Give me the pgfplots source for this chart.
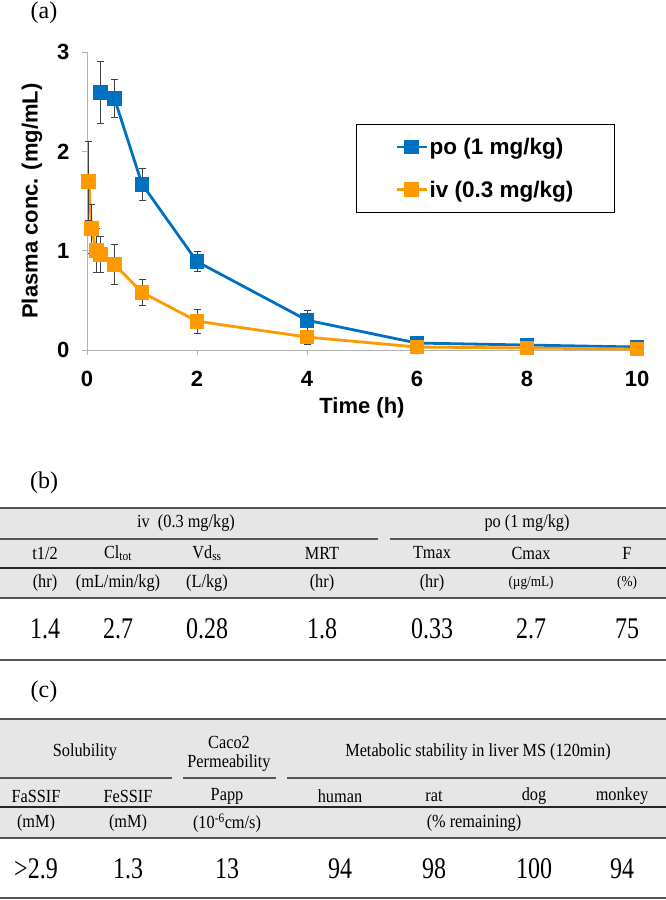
\documentclass[border=0pt]{standalone}
\usepackage{pgfplots}
\pgfplotsset{compat=1.18}
\usepackage{fontspec}
\setmainfont{Liberation Serif}
\newfontfamily\chartfont{Liberation Sans}
\newfontfamily\tabfont[FakeStretch=0.88]{Liberation Serif}
\newfontfamily\valfont[FakeStretch=0.8]{Liberation Serif}

\definecolor{poblue}{RGB}{0,112,192}
\definecolor{ivorange}{RGB}{255,153,0}
\definecolor{headgray}{RGB}{230,230,230}
\definecolor{rulegray}{RGB}{85,85,85}

\newcommand\chf{\chartfont\bfseries\fontsize{22bp}{26bp}\selectfont}
\newcommand\hdr{\tabfont\fontsize{18.5bp}{21bp}\selectfont}
\newcommand\hdrs{\tabfont\fontsize{15bp}{18bp}\selectfont}
\newcommand\val{\valfont\fontsize{30bp}{33bp}\selectfont}
\newcommand\pan{\fontsize{24bp}{26bp}\selectfont}

\begin{document}
\begin{tikzpicture}[x=1bp,y=1bp]
\useasboundingbox (0,0) rectangle (666,-900);

% (a) plasma concentration
\node[font=\pan] at (44,-13) {(a)};
\begin{axis}[
    at={(87bp,-350bp)}, anchor=south west,
    scale only axis, width=550bp, height=298bp,
    xmin=0, xmax=10, ymin=0, ymax=3,
    axis lines=left,
    axis line style={-, draw=gray!60, line width=0.8bp},
    tick align=outside, major tick length=5bp,
    tick style={draw=gray!60, line width=0.8bp},
    xtick={0,2,4,6,8,10}, ytick={0,1,2,3},
    tick label style={font=\chf},
    xticklabel style={yshift=-13bp},
    yticklabel style={xshift=-9bp},
    /pgf/number format/assume math mode=true,
    xlabel={Time (h)}, ylabel={Plasma conc. (mg/mL)},
    label style={font=\chf},
    xlabel style={at={(axis description cs:0.5,0)}, anchor=center, yshift=-58bp},
    ylabel style={at={(axis description cs:-0.1,0.5)}, anchor=center},
    clip=false,
    legend cell align=left,
    legend style={at={(0.489,0.758)}, anchor=north west, draw=black,
        line width=0.8bp, font=\chartfont\bfseries\fontsize{22.5bp}{26bp}\selectfont,
        inner xsep=39bp, inner ysep=12bp, row sep=22bp,
        nodes={inner sep=1.5bp}},
    legend image code/.code={
        \draw[mark repeat=2, mark phase=2, #1] plot coordinates {(0bp,0bp) (15bp,0bp) (30bp,0bp)};
    },
]
\addplot[poblue, line width=2.8bp, mark=square*, mark size=6bp,
    mark options={solid, fill=poblue, draw=poblue},
    error bars/.cd, y dir=both, y explicit,
    error bar style={line width=0.9bp, black!75},
    error mark options={rotate=90, black!75, mark size=3.5bp, line width=0.9bp}]
coordinates {
  (0.25,2.59) +- (0,0.31)
  (0.5,2.53)  +- (0,0.19)
  (1,1.67)    +- (0,0.16)
  (2,0.89)    +- (0,0.10)
  (4,0.30)    +- (0,0.10)
  (6,0.07)    +- (0,0.03)
  (8,0.05)    +- (0,0.03)
  (10,0.03)   +- (0,0.02)
};
\addlegendentry{po (1 mg/kg)}
\addplot[ivorange, line width=2.8bp, mark=square*, mark size=6bp,
    mark options={solid, fill=ivorange, draw=ivorange},
    error bars/.cd, y dir=both, y explicit,
    error bar style={line width=0.9bp, black!75},
    error mark options={rotate=90, black!75, mark size=3.5bp, line width=0.9bp}]
coordinates {
  (0.033,1.70) +- (0,0.40)
  (0.083,1.22) +- (0,0.25)
  (0.167,1.00) +- (0,0.22)
  (0.25,0.96)  +- (0,0.18)
  (0.5,0.86)   +- (0,0.20)
  (1,0.58)     +- (0,0.13)
  (2,0.29)     +- (0,0.12)
  (4,0.13)     +- (0,0.07)
  (6,0.03)     +- (0,0.02)
  (8,0.02)     +- (0,0.02)
  (10,0.01)    +- (0,0.01)
};
\addlegendentry{iv (0.3 mg/kg)}
\end{axis}

% (b) PK parameters
\node[font=\pan] at (44,-483) {(b)};
\fill[headgray] (0,-508) rectangle (666,-598);
\draw[rulegray, line width=2bp] (0,-508) -- (666,-508);
\draw[rulegray, line width=1.5bp] (0,-539) -- (378,-539);
\draw[rulegray, line width=1.5bp] (390,-539) -- (666,-539);
\draw[black!85, line width=2.5bp] (0,-568) -- (666,-568);
\draw[rulegray, line width=1.5bp] (0,-598) -- (666,-598);
\draw[rulegray, line width=2bp] (0,-660) -- (666,-660);
\node[font=\hdr] at (186,-523) {iv\ \ (0.3 mg/kg)};
\node[font=\hdr] at (527,-523) {po (1 mg/kg)};
\foreach \x/\t in {45/t1\slash 2, 118/Cl\textsubscript{tot}, 207/Vd\textsubscript{ss}, 322/MRT, 432/Tmax, 531/Cmax, 627/F}
  \node[font=\hdr] at (\x,-553) {\t};
\foreach \x/\t in {45/(hr), 118/(mL\slash min\slash kg), 207/(L\slash kg), 322/(hr), 432/(hr)}
  \node[font=\hdr] at (\x,-583) {\t};
\node[font=\hdrs] at (531,-583) {(µg/mL)};
\node[font=\hdrs] at (627,-583) {(\%)};
\foreach \x/\t in {45/1.4, 118/2.7, 207/0.28, 322/1.8, 432/0.33, 531/2.7, 627/75}
  \node[font=\val] at (\x,-629) {\t};

% (c) physicochemical and metabolic data
\node[font=\pan] at (44,-692) {(c)};
\fill[headgray] (0,-719) rectangle (666,-838);
\draw[rulegray, line width=2bp] (0,-719) -- (666,-719);
\draw[rulegray, line width=1.5bp] (0,-778) -- (172,-778);
\draw[rulegray, line width=1.5bp] (183,-778) -- (276,-778);
\draw[rulegray, line width=1.5bp] (287,-778) -- (666,-778);
\draw[black!85, line width=2.5bp] (0,-807) -- (666,-807);
\draw[rulegray, line width=1.5bp] (0,-838) -- (666,-838);
\draw[rulegray, line width=2bp] (0,-898) -- (666,-898);
\node[font=\hdr] at (85,-752) {Solubility};
\node[font=\hdr] at (229,-742) {Caco2};
\node[font=\hdr] at (229,-763) {Permeability};
\node[font=\hdr] at (478,-752) {Metabolic stability in liver MS (120min)};
\foreach \x/\t in {36/FaSSIF, 128/FeSSIF, 227/Papp, 340/human, 434/rat, 534/dog, 622/monkey}
  \node[font=\hdr] at (\x,-796) {\t};
\foreach \x/\t in {36/(mM), 128/(mM), 227/(10\textsuperscript{-6}cm\slash s), 474/(\% remaining)}
  \node[font=\hdr] at (\x,-823) {\t};
\foreach \x/\t in {36/>2.9, 128/1.3, 227/13, 340/94, 434/98, 534/100, 622/94}
  \node[font=\val] at (\x,-869) {\t};
\end{tikzpicture}
\end{document}
